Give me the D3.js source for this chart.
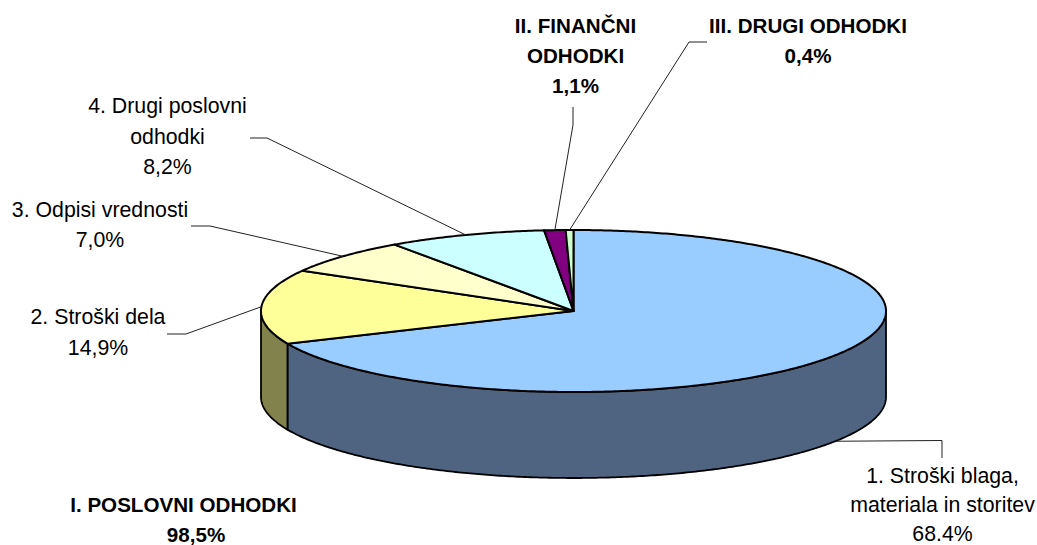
<!DOCTYPE html>
<html>
<head>
<meta charset="utf-8">
<script src="https://cdn.jsdelivr.net/npm/d3@7"></script>
<style>
  body { margin: 0; background: white; }
  text { font-family: "Liberation Sans", Arial, sans-serif; font-size: 21.3px; fill: black; }
  text.bold { font-size: 20.6px; font-weight: bold; }
</style>
</head>
<body>
<svg width="1037" height="545"></svg>
<script>
// Valeurs (%)
const categories = ["1. Stroški blaga, materiala in storitev", "2. Stroški dela", "3. Odpisi vrednosti", "4. Drugi poslovni odhodki", "II. FINANČNI ODHODKI", "III. DRUGI ODHODKI"];
const values = [68.4, 14.9, 7.0, 8.2, 1.1, 0.4];
const topColors = ["#99ccff", "#ffff99", "#ffffcc", "#ccffff", "#800080", "#ccffcc"];
const sideColors = ["#4f6480", "#82824c", "#82826a", "#6a8282", "#400040", "#6a826a"];

// Textes des étiquettes, ligne par ligne
const labelLines = [
  ["1. Stroški blaga,", "materiala in storitev", "68.4%"],
  ["2. Stroški dela", "14,9%"],
  ["3. Odpisi vrednosti", "7,0%"],
  ["4. Drugi poslovni", "odhodki", "8,2%"],
  ["II. FINANČNI", "ODHODKI", "1,1%"],
  ["III. DRUGI ODHODKI", "0,4%"]
];
const totalLines = ["I. POSLOVNI ODHODKI", "98,5%"];

// Mise en page
const cx = 573.5, cy = 311, rx = 312.5, ry = 81, depth = 86;
const labelX = [942.5, 98, 100, 167.5, 575.5, 808];
const labelY = [483, 324, 217, 113, 33, 33];
const lineGap = [29, 30.5, 30, 30.5, 30, 30];
// Coudes des lignes de rappel : [bout côté texte, coude]
const leaderEnds = [
  [[942, 458], [942, 440.5]],
  [[167, 334], [186, 334]],
  [[191, 226], [210, 226]],
  [[250, 138], [267, 138]],
  [[573, 107], [573, 125]],
  [[707, 42], [689, 42]]
];

const svg = d3.select("svg");
const x = d3.scaleLinear().domain([-1, 1]).range([cx - rx, cx + rx]);
const y = d3.scaleLinear().domain([-1, 1]).range([cy - ry, cy + ry]);
const line = d3.line();

// Angle 0 = en haut, sens horaire
const slices = d3.pie().sort(null).value(d => d)(values);
const px = a => x(Math.sin(a));
const py = a => y(-Math.cos(a));

function arcPoints(a0, a1, dy) {
  const n = Math.max(2, Math.ceil((a1 - a0) / 0.01));
  return d3.range(n + 1).map(i => {
    const a = a0 + (a1 - a0) * i / n;
    return [px(a), py(a) + dy];
  });
}

// Faces latérales : seulement la moitié avant est visible
slices.forEach((s, i) => {
  const a0 = Math.max(s.startAngle, Math.PI / 2);
  const a1 = Math.min(s.endAngle, Math.PI * 3 / 2);
  if (a1 <= a0) return;
  const pts = arcPoints(a0, a1, 0).concat(arcPoints(a0, a1, depth).reverse());
  svg.append("path")
    .attr("d", line(pts) + "Z")
    .attr("fill", sideColors[i])
    .attr("stroke", "black")
    .attr("stroke-width", 1.8)
    .attr("stroke-linejoin", "round");
});

// Face du dessus
svg.append("g").selectAll("path")
  .data(slices)
  .join("path")
  .attr("d", s => line([[x(0), y(0)], ...arcPoints(s.startAngle, s.endAngle, 0)]) + "Z")
  .attr("fill", (s, i) => topColors[i])
  .attr("stroke", "black")
  .attr("stroke-width", 2)
  .attr("stroke-linejoin", "round");

// Lignes de rappel
slices.forEach((s, i) => {
  const mid = (s.startAngle + s.endAngle) / 2;
  const front = mid > Math.PI / 2 && mid < Math.PI * 3 / 2;
  const anchor = [px(mid), py(mid) + (front ? depth : 0)];
  svg.append("path")
    .attr("d", line([leaderEnds[i][0], leaderEnds[i][1], anchor]))
    .attr("fill", "none")
    .attr("stroke", "#222")
    .attr("stroke-width", 1);
});

// Étiquettes (le gras pour les groupes II et III)
labelLines.forEach((lines, i) => {
  svg.append("text")
    .attr("class", i >= 4 ? "bold" : null)
    .attr("text-anchor", "middle")
    .selectAll("tspan")
    .data(lines)
    .join("tspan")
    .attr("x", labelX[i])
    .attr("y", (d, j) => labelY[i] + j * lineGap[i])
    .text(d => d);
});

svg.append("text")
  .attr("class", "bold")
  .attr("text-anchor", "middle")
  .selectAll("tspan")
  .data(totalLines)
  .join("tspan")
  .attr("x", (d, j) => j === 0 ? 183.5 : 196)
  .attr("y", (d, j) => 512 + j * 29.8)
  .text(d => d);
</script>
</body>
</html>
